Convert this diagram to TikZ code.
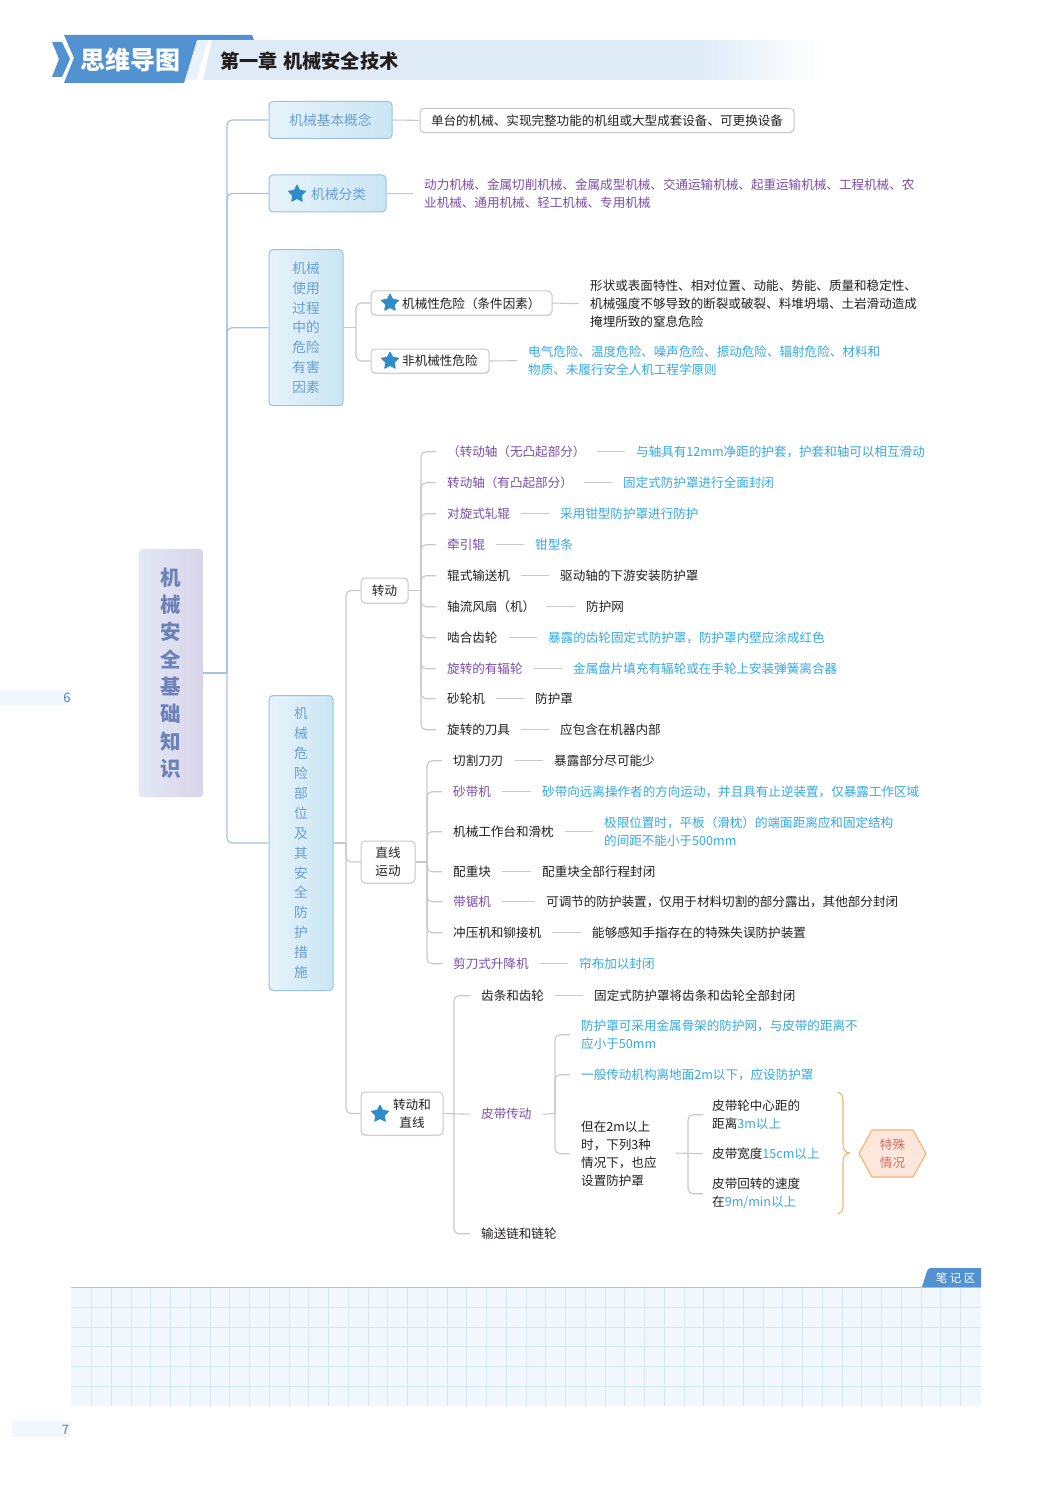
\documentclass[tikz,border=0pt]{standalone}
\usepackage{fontspec}
\setmainfont{Noto Sans CJK SC}
\usetikzlibrary{shapes.geometric,shadows}
\definecolor{cpur}{HTML}{7A4FA8}
\definecolor{cblu}{HTML}{35A9E1}
\definecolor{cblk}{HTML}{231F20}
\definecolor{hblue}{HTML}{5392D0}
\definecolor{hpale}{HTML}{DFEBF7}
\definecolor{boxl}{HTML}{E7F3FA}
\definecolor{boxr}{HTML}{C9E6F3}
\definecolor{boxe}{HTML}{9CC2E5}
\definecolor{boxt}{HTML}{6C9FD0}
\definecolor{trunk}{HTML}{A6C3E2}
\definecolor{gline}{HTML}{C9C9C9}
\definecolor{cstar}{HTML}{2F8CCB}
\definecolor{gridf}{HTML}{F0F7FD}
\definecolor{gridl}{HTML}{D2E8F8}
\definecolor{corange}{HTML}{F6B26B}
\definecolor{rootl}{HTML}{E0E9F6}
\definecolor{rootr}{HTML}{D9D4E8}
\definecolor{roott}{HTML}{6E82B8}
\definecolor{hexf}{HTML}{FDE7DC}
\definecolor{hext}{HTML}{D66E64}
\newcommand{\fs}{\fontsize{12.57}{18}\selectfont}
\newcommand{\fb}{\fontsize{13.7}{19.9}\selectfont}
\newcommand{\bl}[1]{\textcolor{cblu}{#1}}
\tikzset{
  tl/.style={line width=1.2pt,draw=trunk,rounded corners=5pt},
  gl/.style={draw=gline,line width=1.1pt,rounded corners=5pt},
  bluebox/.style={draw=boxe,line width=1pt,left color=boxl,right color=boxr,rounded corners=4pt,inner sep=0pt,text=boxt,font=\fb,align=center},
  whitebox/.style={draw=gline,line width=1pt,fill=white,rounded corners=4pt,inner sep=0pt,text=cblk,font=\fs,align=center,
    general shadow={shadow yshift=-1pt,fill=black,opacity=.12}},
  plain/.style={inner xsep=11pt,inner ysep=0pt,font=\fs,align=left,anchor=west,yshift=-.7pt},
  starmark/.style={star,star points=5,star point ratio=1.95,fill=cstar,inner sep=0pt,minimum size=18pt,line join=round,draw=cstar,line width=.8pt},
  pagenum/.style={font=\fontsize{13}{15}\selectfont,text=hblue!90!black,inner sep=0pt}
}
\newcommand{\rowx}[8]{%
  \node[plain,text=#5] (#1a) at (#3-11,#2) {#4};
  \node[plain,text=#8] (#1b) at (#6-11,#2) {#7};
  \draw[gl] (#1j) |- (#1a.west);
  \draw[gl,rounded corners=0pt] (#1a.east) -- (#1b.west);
}
\begin{document}
\begin{tikzpicture}[x=1pt,y=-1pt]
\useasboundingbox (0,0) rectangle (1052,1487);
\fill[white] (0,0) rectangle (1052,1487);
% header
\fill[hpale] (212,40) -- (700,40) -- (700,80) -- (203,80) -- cycle;
\foreach \i in {0,...,40} {\pgfmathsetmacro{\pc}{100-2.5*\i}\fill[hpale!\pc!white] ({700+3*\i},40) rectangle ({703+3*\i+1},80);}
\fill[hpale!70!white] (197,40) -- (208,40) -- (196,80) -- (185,80) -- cycle;
\fill[hblue] (64,35) -- (252,35) -- (254,40) -- (197,40) -- (184,83) -- (64,83) -- (74,58) -- cycle;
\fill[hblue] (52,42) -- (62,42) -- (70,59) -- (62,77) -- (52,77) -- (59,59) -- cycle;
\node[inner sep=0pt,text=white,font=\fontsize{25}{28}\selectfont\bfseries] (h1) at (130.5,60) {思维导图};
\node[inner sep=0pt,anchor=west,text=cblk,font=\fontsize{19.2}{22}\selectfont\bfseries] (h2) at (220,61.3) {第一章\hspace{5.5pt}机械安全技术};
% page strips
\fill[gridf] (0,690) rectangle (71,705);
\fill[gridf] (12,1421) rectangle (70,1437);
\node[pagenum] (p6) at (67,697.7) {6};
\node[pagenum] (p7) at (65.5,1429.7) {7};
% root
\node[rounded corners=3pt,left color=rootl,right color=rootr,minimum width=64pt,minimum height=248pt,inner sep=0pt] (root) at (171,673) {};
\node[inner sep=0pt,align=center,text=roott,font=\fontsize{20.5}{27.35}\selectfont\bfseries] (roottext) at (170.5,673) {机\\械\\安\\全\\基\\础\\知\\识};
% level 1
\node[bluebox,minimum width=123pt,minimum height=37pt] (a1) at (330.5,120) {机械基本概念};
\node[bluebox,minimum width=117pt,minimum height=37pt] (a2) at (327.5,193.5) {};
\node[bluebox,minimum width=74pt,minimum height=156pt] (a3) at (306,327.7) {机械\\使用\\过程\\中的\\危险\\有害\\因素};
\node[bluebox,minimum width=64pt,minimum height=295pt] (a4) at (301,843) {机\\械\\危\\险\\部\\位\\及\\其\\安\\全\\防\\护\\措\\施};
\node[starmark] (s2) at (297,194) {};
\node[inner sep=0pt,anchor=west,text=boxt,font=\fb] (a2t) at (311,194.7) {机械分类};
% trunk
\coordinate (tr) at (227,673);
\draw[tl,rounded corners=0pt] (root.east) -- (tr);
\draw[tl] (tr) |- (a1.west);
\draw[tl] (tr) |- (a2.west);
\draw[tl] (tr) |- (a3.west);
\draw[tl] (tr) |- (a4.west);
% a1 a2
\node[whitebox,minimum width=374pt,minimum height=24pt] (b1) at (607,120.4) {单台的机械、实现完整功能的机组或大型成套设备、可更换设备};
\draw[gl,rounded corners=0pt] (a1.east) -- (b1.west);
\node[plain,text=cpur] (b2) at (413,193) {动力机械、金属切削机械、金属成型机械、交通运输机械、起重运输机械、工程机械、农\\业机械、通用机械、轻工机械、专用机械};
\draw[gl,rounded corners=0pt] (a2.east) -- (b2.west);
% a3
\coordinate (c3) at (356,327.7);
\node[whitebox,minimum width=181pt,minimum height=24pt] (c1) at (461.5,303) {};
\node[whitebox,minimum width=118pt,minimum height=24pt] (c2) at (430,361) {};
\node[starmark] (s3) at (390,303) {};
\node[starmark] (s4) at (390,361) {};
\node[inner sep=0pt,anchor=west,text=cblk,font=\fs] (c1t) at (402,303.5) {机械性危险（条件因素）};
\node[inner sep=0pt,anchor=west,text=cblk,font=\fs] (c2t) at (402,361) {非机械性危险};
\draw[gl,rounded corners=0pt] (a3.east) -- (c3);
\draw[gl] (c3) |- (c1.west);
\draw[gl] (c3) |- (c2.west);
\node[plain,text=cblk] (d1) at (579,303) {形状或表面特性、相对位置、动能、势能、质量和稳定性、\\机械强度不够导致的断裂或破裂、料堆坍塌、土岩滑动造成\\掩埋所致的窒息危险};
\node[plain,text=cblu] (d2) at (517,360) {电气危险、温度危险、噪声危险、振动危险、辐射危险、材料和\\物质、未履行安全人机工程学原则};
\draw[gl,rounded corners=0pt] (c1.east) -- (d1.west);
\draw[gl,rounded corners=0pt] (c2.east) -- (d2.west);
% a4 branches
\coordinate (c4) at (346,843);
\node[whitebox,minimum width=47pt,minimum height=25pt] (e1) at (384.5,590.5) {转动};
\node[whitebox,minimum width=54pt,minimum height=42pt] (e2) at (388,862) {直线\\运动};
\node[whitebox,minimum width=82pt,minimum height=43pt] (e3) at (402,1113.5) {};
\node[starmark] (s5) at (380,1114) {};
\node[inner sep=0pt,align=center,text=cblk,font=\fs] (e3t) at (412,1113.5) {转动和\\直线};
\draw[gl,rounded corners=0pt] (a4.east) -- (c4);
\draw[gl] (c4) |- (e1.west);
\draw[gl] (c4) |- (e2.west);
\draw[gl] (c4) |- (e3.west);
% rotating
\coordinate (rj) at (421,590.5);
\draw[gl,rounded corners=0pt] (e1.east) -- (rj);
\foreach \n in {r1,r2,r3,r4,r5,r6,r7,r8,r9,r10} {\coordinate (\n j) at (rj);}
\rowx{r1}{451}{447}{（转动轴（无凸起部分）}{cpur}{636}{与轴具有12mm净距的护套，护套和轴可以相互滑动}{cblu}
\rowx{r2}{482}{447}{转动轴（有凸起部分）}{cpur}{623}{固定式防护罩进行全面封闭}{cblu}
\rowx{r3}{513}{447}{对旋式轧辊}{cpur}{560}{采用钳型防护罩进行防护}{cblu}
\rowx{r4}{544}{447}{牵引辊}{cpur}{535}{钳型条}{cblu}
\rowx{r5}{575}{447}{辊式输送机}{cblk}{560}{驱动轴的下游安装防护罩}{cblk}
\rowx{r6}{606}{447}{轴流风扇（机）}{cblk}{586}{防护网}{cblk}
\rowx{r7}{637}{447}{啮合齿轮}{cblk}{548}{暴露的齿轮固定式防护罩，防护罩内壁应涂成红色}{cblu}
\rowx{r8}{668}{447}{旋转的有辐轮}{cpur}{573}{金属盘片填充有辐轮或在手轮上安装弹簧离合器}{cblu}
\rowx{r9}{698}{447}{砂轮机}{cblk}{535}{防护罩}{cblk}
\rowx{r10}{729}{447}{旋转的刀具}{cblk}{560}{应包含在机器内部}{cblk}
% linear
\coordinate (lj) at (427,862);
\draw[gl,rounded corners=0pt] (e2.east) -- (lj);
\foreach \n in {l1,l2,l3,l4,l5,l6,l7} {\coordinate (\n j) at (lj);}
\rowx{l1}{760}{453}{切割刀刃}{cblk}{554}{暴露部分尽可能少}{cblk}
\rowx{l2}{791}{453}{砂带机}{cpur}{542}{砂带向远离操作者的方向运动，并且具有止逆装置，仅暴露工作区域}{cblu}
\rowx{l3}{831}{453}{机械工作台和滑枕}{cblk}{604}{极限位置时，平板（滑枕）的端面距离应和固定结构\\的间距不能小于500mm}{cblu}
\rowx{l4}{871}{453}{配重块}{cblk}{542}{配重块全部行程封闭}{cblk}
\rowx{l5}{901}{453}{带锯机}{cpur}{546}{可调节的防护装置，仅用于材料切割的部分露出，其他部分封闭}{cblk}
\rowx{l6}{932}{453}{冲压机和铆接机}{cblk}{592}{能够感知手指存在的特殊失误防护装置}{cblk}
\rowx{l7}{963}{453}{剪刀式升降机}{cpur}{579}{帘布加以封闭}{cblu}
% rotating + linear
\coordinate (mj) at (454,1113.5);
\foreach \n in {m1} {\coordinate (\n j) at (mj);}
\rowx{m1}{995}{481}{齿条和齿轮}{cblk}{594}{固定式防护罩将齿条和齿轮全部封闭}{cblk}
\node[plain,text=cblk] (m3) at (470,1233) {输送链和链轮};
\draw[gl] (mj) |- (m3.west);
\node[plain,text=cpur] (m2) at (470,1113.5) {皮带传动};
\draw[gl,rounded corners=0pt] (e3.east) -- (m2.west);
\coordinate (pj) at (555,1113.5);
\draw[gl,rounded corners=0pt] (m2.east) -- (pj);
\node[plain,text=cblu] (p1) at (570,1034) {防护罩可采用金属骨架的防护网，与皮带的距离不\\应小于50mm};
\node[plain,text=cblu] (p2) at (570,1074) {一般传动机构离地面2m以下，应设防护罩};
\node[plain,text=cblk] (p3) at (570,1153) {但在2m以上\\时，下列3种\\情况下，也应\\设置防护罩};
\draw[gl] (pj) |- (p1.west);
\draw[gl] (pj) |- (p2.west);
\draw[gl] (pj) |- (p3.west);
\node[plain,text=cblk,inner xsep=9pt] (q1) at (703,1114) {皮带轮中心距的\\距离\bl{3m以上}};
\node[plain,text=cblk,inner xsep=9pt] (q2) at (703,1153) {皮带宽度\bl{15cm以上}};
\node[plain,text=cblk,inner xsep=9pt] (q3) at (703,1193) {皮带回转的速度\\在\bl{9m/min以上}};
\coordinate (qj) at (688,1153);
\coordinate (qs) at (676,1153);
\draw[gl,rounded corners=0pt] (qs) -- (q2.west);
\draw[gl] (qj) |- (q1.west);
\draw[gl] (qj) |- (q3.west);
% brace
\draw[draw=corange,line width=1.1pt,line cap=round,line join=round] (838,1092) .. controls (841,1093) and (843,1095) .. (843,1100) -- (843,1144) .. controls (843,1150) and (846,1153) .. (850,1153) .. controls (846,1153) and (843,1156) .. (843,1162) -- (843,1206) .. controls (843,1211) and (841,1213) .. (838,1214);
% hexagon
\draw[draw=corange,fill=hexf,line width=1.1pt,line join=round] (859,1153.5) -- (872,1130) -- (913,1130) -- (926,1153.5) -- (913,1177) -- (872,1177) -- cycle;
\node[inner sep=0pt,align=center,text=hext,font=\fs] (hex) at (892.5,1153.5) {特殊\\情况};
% notes
\fill[gridf] (71,1287) rectangle (981,1406);
\foreach \i in {0,...,44} {\draw[gridl,line width=.8pt] ({91.5+19.75*\i},1287) -- ({91.5+19.75*\i},1406);}
\foreach \i in {0,...,4} {\draw[gridl,line width=.8pt] (71,{1307.3+19.75*\i}) -- (981,{1307.3+19.75*\i});}
\draw[trunk,line width=1pt] (71,1287) -- (981,1287);
\fill[hblue] (922,1287) -- (927,1271) .. controls (928,1269) and (929,1268) .. (931,1268) -- (981,1268) -- (981,1287) -- cycle;
\node[inner sep=0pt,text=white,font=\fontsize{11.5}{13}\selectfont] (nt) at (955.5,1277.7) {笔\hspace{2.5pt}记\hspace{2.5pt}区};
\end{tikzpicture}
\end{document}
